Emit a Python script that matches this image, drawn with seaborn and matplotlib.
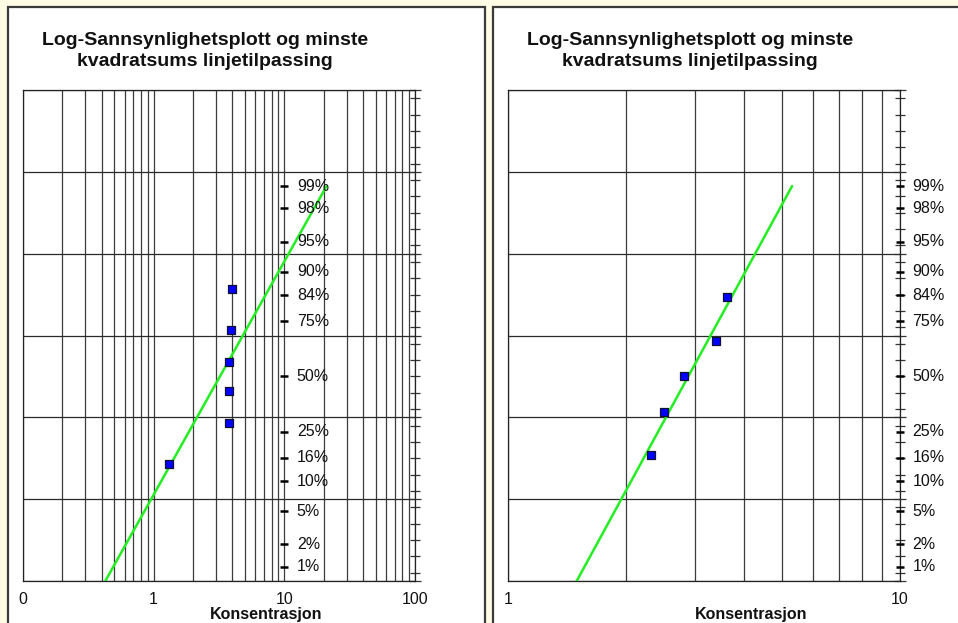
import numpy as np
import pandas as pd
import matplotlib
matplotlib.use("Agg")
import matplotlib.pyplot as plt
from matplotlib.patches import Rectangle
from matplotlib.ticker import FixedLocator, NullFormatter, MultipleLocator
import seaborn as sns
from statistics import NormalDist

sns.set_style("white")
plt.rcParams["font.family"] = ["Liberation Sans", "DejaVu Sans"]

# ---- data -------------------------------------------------------------
title_text = "Log-Sannsynlighetsplott og minste\nkvadratsums linjetilpassing"
x_label = "Konsentrasjon"

# panel 1: six observations
left_conc = [1.30, 3.78, 3.78, 3.78, 3.93, 4.00]
left_prob = [0.143, 0.286, 0.429, 0.571, 0.714, 0.857]
left_xticks = [0.1, 1, 10, 100]
left_xticklabels = ["0", "1", "10", "100"]

# panel 2: five observations
right_conc = [2.31, 2.50, 2.81, 3.40, 3.61]
right_prob = [0.167, 0.333, 0.500, 0.667, 0.833]
right_xticks = [1, 10]
right_xticklabels = ["1", "10"]

# probability scale labels
pct_levels = [99, 98, 95, 90, 84, 75, 50, 25, 16, 10, 5, 2, 1]
pct_label_x = 10

nd = NormalDist()
Z_MIN, Z_MAX = -2.5, 3.5

W, H = 958, 623
fig = plt.figure(figsize=(W / 100, H / 100), dpi=100)
fig.patch.set_facecolor("#FFFCE6")


def fx(px):
    return px / W


def fy(py):
    return 1 - py / H


# chart frames (behind the axes)
for x0, x1 in [(8, 485), (493, 970)]:
    fig.patches.append(Rectangle((fx(x0), fy(640)), fx(x1 - x0), (640 - 7) / H,
                                 transform=fig.transFigure, facecolor="white",
                                 edgecolor="#3a3a3a", linewidth=1.6, zorder=-10))


def draw_panel(px_left, px_right, conc, prob, xlim, xticks, xticklabels,
               title_cx, label_cx):
    ax = fig.add_axes([fx(px_left), fy(581), fx(px_right - px_left), (581 - 90) / H])
    ax.set_zorder(2)
    ax.set_facecolor("white")
    ax.set_xscale("log")
    ax.set_xlim(*xlim)
    ax.set_ylim(Z_MIN, Z_MAX)
    ax.set_axisbelow(True)

    df = pd.DataFrame({"conc": conc, "z": [nd.inv_cdf(p) for p in prob]})

    # least-squares line: z against log10(concentration)
    slope, icept = np.polyfit(np.log10(df["conc"]), df["z"], 1)
    z_line = np.array([Z_MIN - 0.05, nd.inv_cdf(0.99)])
    fit = pd.DataFrame({"conc": 10 ** ((z_line - icept) / slope), "z": z_line})
    sns.lineplot(data=fit, x="conc", y="z", ax=ax, color="#22EE22", lw=1.8,
                 sort=False, zorder=3)

    sns.scatterplot(data=df, x="conc", y="z", ax=ax, marker="s", s=34,
                    color="#0000FF", edgecolor="#101030", linewidth=0.9, zorder=4)

    # probability scale: dash markers with percent labels
    pct = pd.DataFrame({"x": [pct_label_x] * len(pct_levels),
                        "z": [nd.inv_cdf(p / 100) for p in pct_levels]})
    sns.scatterplot(data=pct, x="x", y="z", ax=ax, marker="_", s=36,
                    color="black", linewidth=1.8, zorder=5, clip_on=False)
    for p, z in zip(pct_levels, pct["z"]):
        ax.annotate(f"{p}%", (pct_label_x, z), xytext=(9, 0),
                    textcoords="offset points", va="center", ha="left",
                    fontsize=11.5, color="#111111", annotation_clip=False)

    # grid
    ax.xaxis.set_major_locator(FixedLocator(xticks))
    ax.set_xticklabels(xticklabels)
    ax.xaxis.set_minor_formatter(NullFormatter())
    ax.yaxis.set_minor_locator(MultipleLocator(0.2))
    ax.yaxis.set_major_locator(FixedLocator(np.arange(Z_MIN, Z_MAX + 0.01, 1.0)))
    ax.grid(True, which="both", axis="x", color="#3c3c3c", lw=0.9)
    ax.grid(True, which="major", axis="y", color="#2a2a2a", lw=0.9)

    ax.tick_params(axis="x", which="both", direction="out", length=4, width=0.9,
                   color="#333333", labelsize=11.5, pad=4, labelcolor="#111111")
    ax.yaxis.tick_right()
    ax.tick_params(axis="y", which="both", left=False, right=True,
                   labelright=False, labelleft=False, direction="inout",
                   color="#333333", width=0.9)
    ax.tick_params(axis="y", which="major", length=9)
    ax.tick_params(axis="y", which="minor", length=7)
    for s in ax.spines.values():
        s.set_color("#222222")
        s.set_linewidth(0.9)
    ax.set_xlabel("")
    ax.set_ylabel("")

    fig.text(fx(title_cx), fy(51), title_text, ha="center", va="center",
             fontsize=14, fontweight="bold", linespacing=1.35, color="#111111")
    fig.text(fx(label_cx), fy(614), x_label, ha="center", va="center",
             fontsize=11.5, fontweight="bold", color="#111111")
    return ax


draw_panel(23, 415, left_conc, left_prob, (0.1, 100), left_xticks,
           left_xticklabels, 205, 266)
draw_panel(508, 900, right_conc, right_prob, (1, 10), right_xticks,
           right_xticklabels, 690, 751)

fig.savefig("out.png", dpi=100, facecolor=fig.get_facecolor())
